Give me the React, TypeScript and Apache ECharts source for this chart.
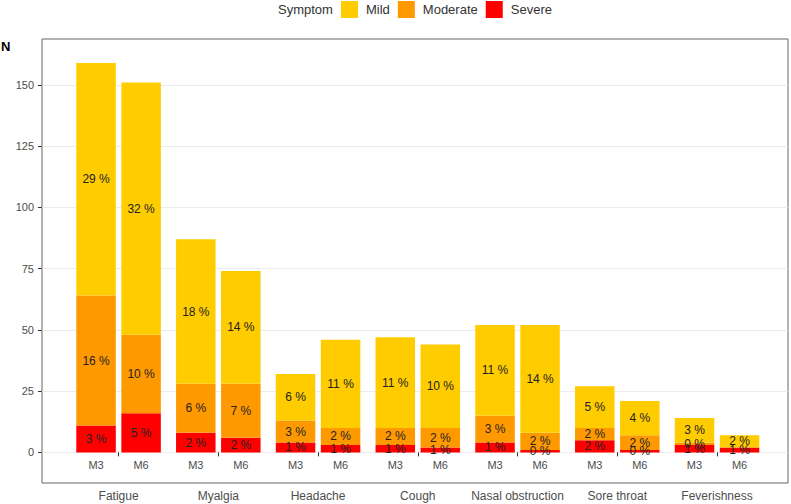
import React, { useEffect, useRef } from "react";
import * as echarts from "echarts";

const symptoms = ["Fatigue", "Myalgia", "Headache", "Cough", "Nasal obstruction", "Sore throat", "Feverishness"];
const timepoints = ["M3", "M6"];
const severities = ["Severe", "Moderate", "Mild"];
const colors: Record<string, string> = { Mild: "#FFCC00", Moderate: "#FF9900", Severe: "#FF0000" };

// counts per segment
const m3Severe = [11, 8, 4, 3, 4, 5, 3];
const m3Moderate = [53, 20, 9, 7, 11, 5, 1];
const m3Mild = [95, 59, 19, 37, 37, 17, 10];
const m6Severe = [16, 6, 3, 2, 1, 1, 2];
const m6Moderate = [32, 22, 7, 8, 7, 6, 0];
const m6Mild = [103, 46, 36, 34, 44, 14, 5];

// percentage labels
const m3SeverePct = ["3 %", "2 %", "1 %", "1 %", "1 %", "2 %", "1 %"];
const m3ModeratePct = ["16 %", "6 %", "3 %", "2 %", "3 %", "2 %", "0 %"];
const m3MildPct = ["29 %", "18 %", "6 %", "11 %", "11 %", "5 %", "3 %"];
const m6SeverePct = ["5 %", "2 %", "1 %", "1 %", "0 %", "0 %", "1 %"];
const m6ModeratePct = ["10 %", "7 %", "2 %", "2 %", "2 %", "2 %", ""];
const m6MildPct = ["32 %", "14 %", "11 %", "10 %", "14 %", "4 %", "2 %"];

const yTicks = [0, 25, 50, 75, 100, 125, 150];
const timeLabelDepth = -10;

const values: Record<string, Record<string, number[]>> = {
  M3: { Severe: m3Severe, Moderate: m3Moderate, Mild: m3Mild },
  M6: { Severe: m6Severe, Moderate: m6Moderate, Mild: m6Mild },
};
const pcts: Record<string, Record<string, string[]>> = {
  M3: { Severe: m3SeverePct, Moderate: m3ModeratePct, Mild: m3MildPct },
  M6: { Severe: m6SeverePct, Moderate: m6ModeratePct, Mild: m6MildPct },
};

export default function App() {
  const ref = useRef<HTMLDivElement>(null);
  useEffect(() => {
    document.body.style.margin = "0";
    if (!ref.current) return;
    const chart = echarts.init(ref.current, undefined, { renderer: "svg" });
    const yMin = -12.5;
    const yMax = 168.75;
    const series: any[] = [];
    timepoints.forEach((tp) => {
      series.push({
        type: "bar",
        name: "lbl" + tp,
        stack: tp,
        xAxisIndex: 1,
        yAxisIndex: 1,
        barWidth: 39.5,
        barGap: "14%",
        silent: true,
        itemStyle: { color: "rgba(0,0,0,0)" },
        label: { show: true, position: "inside", formatter: tp, color: "#4D4D4D", fontSize: 11 },
        emphasis: { disabled: true },
        data: symptoms.map(() => timeLabelDepth),
      });
      severities.forEach((sev) => {
        const arr = values[tp][sev];
        const lab = pcts[tp][sev];
        series.push({
          type: "bar",
          name: sev,
          stack: tp,
          xAxisIndex: 1,
          yAxisIndex: 1,
          barWidth: 39.5,
          barGap: "14%",
          itemStyle: { color: colors[sev] },
          emphasis: { disabled: true },
          label: {
            show: true,
            position: "inside",
            color: "#222",
            fontSize: 12,
            formatter: (p: any) => lab[p.dataIndex],
          },
          data: arr,
        });
      });
    });

    chart.setOption({
      animation: false,
      textStyle: { fontFamily: "'Liberation Sans', Arial, sans-serif" },
      legend: {
        data: ["Mild", "Moderate", "Severe"],
        left: 341,
        top: 1,
        padding: 0,
        itemWidth: 17,
        itemHeight: 17,
        itemGap: 8,
        icon: "rect",
        textStyle: { fontSize: 13, color: "#333", padding: [0, 0, 0, 3] },
        selectedMode: false,
      },
      graphic: [
        { type: "text", left: 278, top: 3, style: { text: "Symptom", fontSize: 13, fill: "#333", fontFamily: "'Liberation Sans', Arial, sans-serif" } },
        { type: "text", left: 1, top: 40, style: { text: "N", fontSize: 13, fontWeight: "bold", fill: "#000", fontFamily: "'Liberation Sans', Arial, sans-serif" } },
      ],
      grid: [
        { left: 42, right: 3, top: 39, bottom: 21, show: true, borderColor: "#666", borderWidth: 1, backgroundColor: "transparent" },
        { left: 68.7, right: 24.1, top: 39, bottom: 21, show: false },
      ],
      xAxis: [
        { type: "value", gridIndex: 0, min: 0, max: 1, show: false },
        {
          type: "category",
          gridIndex: 1,
          data: symptoms,
          axisLine: { show: false },
          axisTick: { show: true, alignWithLabel: true, interval: 0, length: 4, lineStyle: { color: "#333" } },
          axisLabel: { fontSize: 12, color: "#4D4D4D", margin: 7, interval: 0 },
        },
      ],
      yAxis: [
        {
          type: "value",
          gridIndex: 0,
          min: yMin,
          max: yMax,
          interval: 12.5,
          axisLine: { show: false },
          axisTick: { show: true, length: 4, lineStyle: { color: "#333" }, customValues: yTicks },
          axisLabel: {
            fontSize: 11,
            color: "#4D4D4D",
            margin: 8,
            customValues: yTicks,
            formatter: (v: number) => (v >= 0 && v % 25 === 0 ? String(v) : ""),
          },
          splitLine: { show: true, lineStyle: { color: "#EBEBEB", width: 1 } },
        },
        { type: "value", gridIndex: 1, min: yMin, max: yMax, show: false, splitLine: { show: false } },
      ],
      series,
    });
    return () => chart.dispose();
  }, []);
  return <div ref={ref} style={{ width: 791, height: 504 }} />;
}
